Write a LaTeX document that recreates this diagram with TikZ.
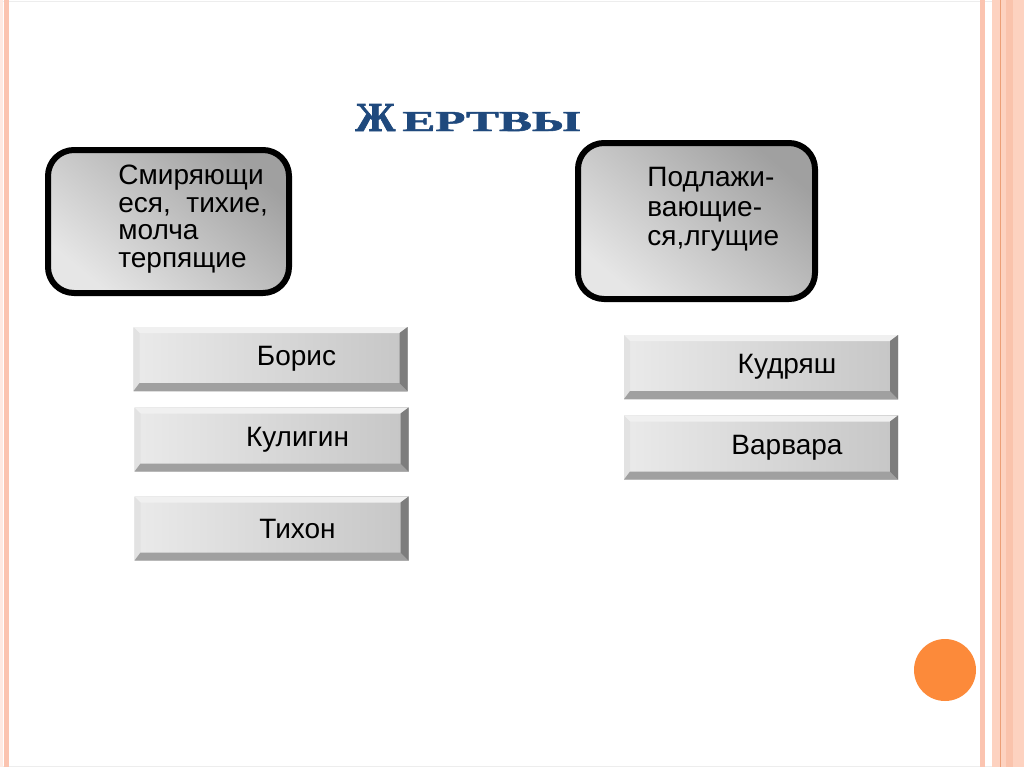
\documentclass[tikz,border=0pt]{standalone}
\usepackage{fontspec}
\setmainfont{Liberation Sans}
\newfontfamily\titlefont{Liberation Serif}[BoldFeatures={FakeBold=1.6}]
\usepackage{graphicx}
\usetikzlibrary{positioning}

\definecolor{titleblue}{RGB}{31,73,125}
\definecolor{stripe}{RGB}{251,196,176}
\definecolor{stripeband}{RGB}{253,210,192}
\definecolor{stripemid}{RGB}{250,195,172}
\definecolor{stripedark}{RGB}{236,158,118}
\definecolor{dotorange}{RGB}{252,138,58}
\definecolor{boxlight}{RGB}{230,230,230}
\definecolor{boxdark}{RGB}{160,160,160}
\definecolor{btnlight}{RGB}{234,234,234}
\definecolor{btndark}{RGB}{198,198,198}
\definecolor{bevtop}{RGB}{240,240,240}
\definecolor{bevleft}{RGB}{226,226,226}
\definecolor{bevright}{RGB}{125,125,125}
\definecolor{bevbottom}{RGB}{160,160,160}

\tikzset{
  gbox/.style={draw=black, line width=3pt, rounded corners=13pt, inner sep=0pt,
    top color=boxdark, bottom color=boxlight, shading angle=-40},
  gtext/.style={align=left, inner sep=0pt, anchor=north west},
  btn/.style={minimum width=137pt, minimum height=32pt, inner sep=0pt,
    left color=btnlight, right color=btndark, font=\fontsize{14}{16}\selectfont,
    execute at begin node={\hspace*{26pt}},
    path picture={
      \fill[bevtop] (path picture bounding box.north west) -- (path picture bounding box.north east)
        -- ([xshift=-4pt,yshift=-3pt]path picture bounding box.north east)
        -- ([xshift=3pt,yshift=-3pt]path picture bounding box.north west) -- cycle;
      \fill[bevleft] (path picture bounding box.north west) -- (path picture bounding box.south west)
        -- ([xshift=3pt,yshift=4pt]path picture bounding box.south west)
        -- ([xshift=3pt,yshift=-3pt]path picture bounding box.north west) -- cycle;
      \fill[bevbottom] (path picture bounding box.south west) -- (path picture bounding box.south east)
        -- ([xshift=-4pt,yshift=4pt]path picture bounding box.south east)
        -- ([xshift=3pt,yshift=4pt]path picture bounding box.south west) -- cycle;
      \fill[bevright] (path picture bounding box.north east) -- (path picture bounding box.south east)
        -- ([xshift=-4pt,yshift=4pt]path picture bounding box.south east)
        -- ([xshift=-4pt,yshift=-3pt]path picture bounding box.north east) -- cycle;
    }}
}

\begin{document}
\begin{tikzpicture}[x=0.5pt, y=-0.5pt]

  % slide background and frame
  \useasboundingbox (0,0) rectangle (1024,767);
  \fill[white] (0,0) rectangle (1024,767);
  \draw[black!7, line width=0.4pt] (1,1) rectangle (1023,766);

  % stripes left and right
  \fill[stripe!35] (0,0) rectangle (3,767);
  \fill[stripe] (4,0) rectangle (9,767);
  \fill[stripe] (980,0) rectangle (985,767);
  \fill[stripeband] (992,0) rectangle (1024,767);
  \fill[stripemid] (1006,0) rectangle (1013,767);
  \fill[stripedark] (999.5,0) rectangle (1001,767);

  % orange dot
  \fill[dotorange] (945,670) circle (31);

  % title
  \node[anchor=base west, text=titleblue, inner sep=0pt] (title) at (355,131)
    {\titlefont\bfseries\resizebox{20pt}{13.5pt}{Ж}\hspace{3.5pt}\resizebox{89pt}{9.5pt}{ЕРТВЫ}};

  % group boxes
  \node[gbox, minimum width=120.5pt, minimum height=71.5pt] (meek) at (168.5,221.5) {};
  \node[gbox, minimum width=118.5pt, minimum height=78pt] (fawn) at (696.5,221) {};

  \node[gtext, font=\fontsize{14}{13.7}\selectfont] (meektext) at (118,165)
    {Смиряющи\\еся, \ тихие,\\молча\\терпящие};
  \node[gtext, font=\fontsize{14}{14.8}\selectfont] (fawntext) at (647,167)
    {Подлажи-\\вающие-\\ся,лгущие};

  % characters
  \node[btn] (boris) at (270.5,359) {Борис};
  \node[btn] (kuligin) at (271.5,439.5) {Кулигин};
  \node[btn] (tikhon) at (271.5,528.5) {Тихон};

  \node[btn] (kudryash) at (761,367) {Кудряш};
  \node[btn] (varvara) at (761,447.5) {Варвара};

\end{tikzpicture}
\end{document}
